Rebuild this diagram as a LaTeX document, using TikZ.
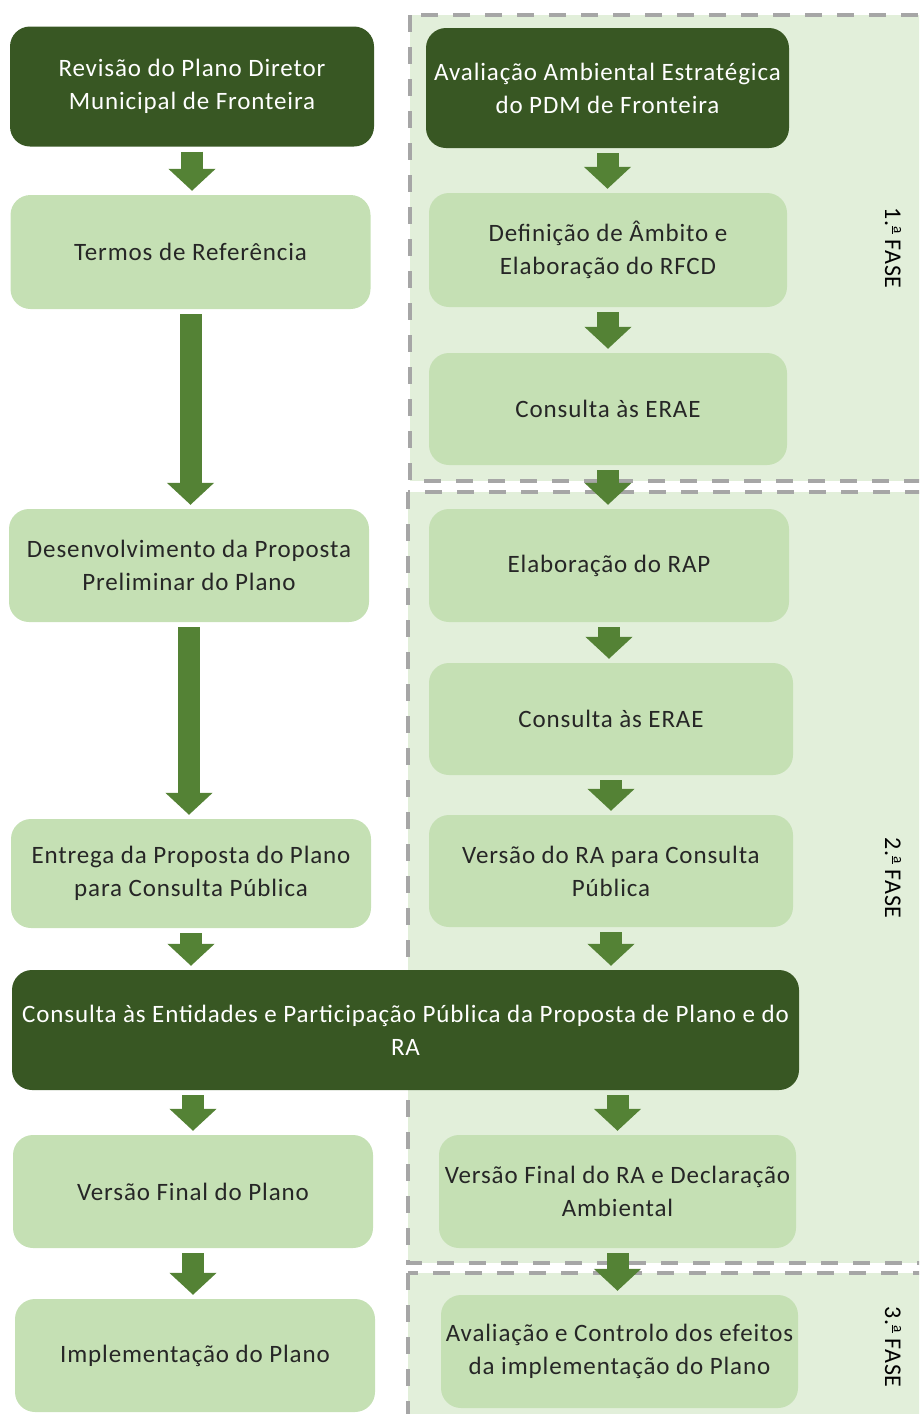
\documentclass[tikz,border=0pt]{standalone}
\usepackage{fontspec}
\setmainfont[LetterSpace=3.5]{Carlito}
\usepackage{tikz}
\usetikzlibrary{arrows.meta}

\definecolor{darkgreen}{HTML}{385723}
\definecolor{lightgreen}{HTML}{C5E0B4}
\definecolor{palegreen}{HTML}{E2EFDA}
\definecolor{arrowgreen}{HTML}{548235}
\definecolor{dashgray}{HTML}{A6A6A6}

% raised, underlined ordinal a
\newcommand{\faseOrd}{\raisebox{0.36em}{\fontsize{15}{15}\selectfont\underline{a}}}

\begin{document}
\begin{tikzpicture}[x=1pt, y=-1pt,
  every node/.style={align=center, font=\fontsize{25}{33}\selectfont},
  box/.style={rounded corners=20pt, fill=lightgreen, text=black!85, minimum width=360pt, minimum height=113pt, inner sep=0pt},
  darkbox/.style={box, fill=darkgreen, text=white, minimum height=120pt},
  phase/.style={fill=palegreen, draw=dashgray, line width=3.5pt, dash pattern=on 17pt off 15pt},
  fase/.style={rotate=-90, text=black, font=\fontsize{24}{26}\selectfont},
  blk/.style={arrowgreen, line width=22pt, -{Triangle[length=22pt, width=46pt]}, shorten <=5pt, shorten >=4pt}]

\useasboundingbox (0,0) rectangle (919,1414);
\clip (0,0) rectangle (919,1414);

% Phase backgrounds
\path[phase] (410,15) rectangle (950,481);
\path[phase] (408,492) rectangle (950,1263);
\path[phase] (408,1273) rectangle (950,1440);

\node[fase] (fase1) at (893,248) {1.\faseOrd\ FASE};
\node[fase] (fase2) at (893,878) {2.\faseOrd\ FASE};
\node[fase] (fase3) at (893,1347) {3.\faseOrd\ FASE};

% Plan (left column)
\node[darkbox, minimum width=364pt] (revisao) at (192,86.5) {Revisão do Plano Diretor\\Municipal de Fronteira};
\node[box, minimum height=114pt] (termos) at (190.5,252) {Termos de Referência};
\node[box] (desenvolvimento) at (189,565.5) {Desenvolvimento da Proposta\\Preliminar do Plano};
\node[box, minimum height=109pt] (entrega) at (191,873.5) {Entrega da Proposta do Plano\\para Consulta Pública};
\node[darkbox, minimum width=787pt] (consulta) at (405.5,1030) {Consulta às Entidades e Participação Pública da Proposta de Plano e do\\RA};
\node[box] (versaoPlano) at (193,1191.5) {Versão Final do Plano};
\node[box] (implementacao) at (195,1355.5) {Implementação do Plano};

% Environmental assessment (right column)
\node[darkbox, minimum width=363pt] (aae) at (607.5,88) {Avaliação Ambiental Estratégica\\do PDM de Fronteira};
\node[box, minimum width=358pt, minimum height=114pt] (ambito) at (608,250) {Definição de Âmbito e\\Elaboração do RFCD};
\node[box, minimum width=358pt, minimum height=112pt] (eraeA) at (608,409) {Consulta às ERAE};
\node[box] (rap) at (609,565.5) {Elaboração do RAP};
\node[box, minimum width=364pt, minimum height=112pt] (eraeB) at (611,719) {Consulta às ERAE};
\node[box, minimum width=364pt, minimum height=112pt] (versaoRA) at (611,871) {Versão do RA para Consulta\\Pública};
\node[box, minimum width=357pt] (versaoFinalRA) at (617.5,1191.5) {Versão Final do RA e Declaração\\Ambiental};
\node[box, minimum width=357pt] (controlo) at (619.5,1351.5) {Avaliação e Controlo dos efeitos\\da implementação do Plano};

% Block arrows between the steps
\draw[blk] (revisao.south) -- (revisao.south |- termos.north);
\draw[blk] (termos.south) -- (termos.south |- desenvolvimento.north);
\draw[blk] (desenvolvimento.south) -- (desenvolvimento.south |- entrega.north);
\draw[blk] (entrega.south) -- (entrega.south |- consulta.north);
\draw[blk] (versaoPlano.north |- consulta.south) -- (versaoPlano.north);
\draw[blk] (versaoPlano.south) -- (versaoPlano.south |- implementacao.north);
\draw[blk] (aae.south) -- (aae.south |- ambito.north);
\draw[blk] (ambito.south) -- (ambito.south |- eraeA.north);
\draw[blk] (eraeA.south) -- (eraeA.south |- rap.north);
\draw[blk] (rap.south) -- (rap.south |- eraeB.north);
\draw[blk] (eraeB.south) -- (eraeB.south |- versaoRA.north);
\draw[blk] (versaoRA.south) -- (versaoRA.south |- consulta.north);
\draw[blk] (versaoFinalRA.north |- consulta.south) -- (versaoFinalRA.north);
\draw[blk] (versaoFinalRA.south) -- (versaoFinalRA.south |- controlo.north);

\end{tikzpicture}
\end{document}
